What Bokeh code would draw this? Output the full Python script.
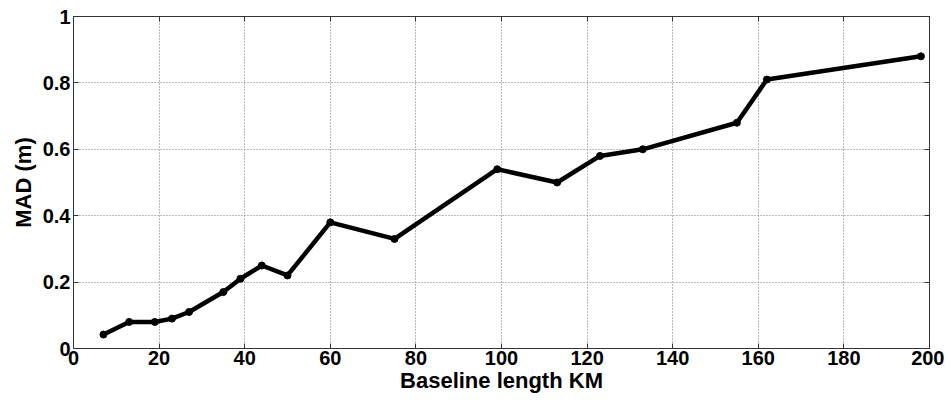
from bokeh.plotting import figure
from bokeh.models import FixedTicker, LinearAxis, Range1d
from bokeh.embed import file_html
from bokeh.resources import INLINE

baseline_km = [7, 13, 19, 23, 27, 35, 39, 44, 50, 60, 75, 99, 113, 123, 133, 155, 162, 198]
mad_m = [0.042, 0.08, 0.08, 0.09, 0.11, 0.17, 0.21, 0.25, 0.22, 0.38, 0.33, 0.54, 0.50, 0.58, 0.60, 0.68, 0.81, 0.88]

x_ticks = [0, 20, 40, 60, 80, 100, 120, 140, 160, 180, 200]
y_ticks = [0, 0.2, 0.4, 0.6, 0.8, 1]
y_tick_labels = ["0", "0.2", "0.4", "0.6", "0.8", "1"]

FONT = "Liberation Sans"

p = figure(width=944, height=395, output_backend="svg", toolbar_location=None,
           x_range=Range1d(0, 200), y_range=Range1d(0, 1),
           min_border_left=73, min_border_right=15, min_border_top=16, min_border_bottom=46)
p.outline_line_color = "#333333"
p.outline_line_width = 1
p.background_fill_color = "white"
p.border_fill_color = "white"

for ax in (p.xaxis[0], p.yaxis[0]):
    ax.major_tick_in = 5
    ax.major_tick_out = 0
    ax.minor_tick_line_color = None
    ax.axis_line_color = "#333333"
    ax.major_tick_line_color = "#333333"
    ax.major_label_text_font = FONT
    ax.major_label_text_font_style = "bold"
    ax.major_label_text_font_size = "20px"
    ax.major_label_text_color = "black"
    ax.axis_label_text_font = FONT
    ax.axis_label_text_font_style = "bold"
    ax.axis_label_text_font_size = "22px"
    ax.axis_label_text_color = "black"

p.xaxis.ticker = FixedTicker(ticks=x_ticks)
p.yaxis.ticker = FixedTicker(ticks=y_ticks)
p.yaxis.major_label_overrides = {t: l for t, l in zip(y_ticks, y_tick_labels)}
p.xaxis.axis_label = "Baseline length KM"
p.yaxis.axis_label = "MAD (m)"
p.xaxis.axis_label_standoff = 0
p.xaxis.major_label_standoff = 2
p.yaxis.major_label_standoff = 3
p.yaxis.axis_label_standoff = 4

# box ticks on top and right (no labels)
top = LinearAxis(ticker=FixedTicker(ticks=x_ticks),
                 major_label_overrides={t: "" for t in x_ticks},
                 major_label_standoff=0,
                 major_tick_in=5, major_tick_out=0, minor_tick_line_color=None,
                 axis_line_color="#333333", major_tick_line_color="#333333")
right = LinearAxis(ticker=FixedTicker(ticks=y_ticks),
                   major_label_overrides={t: "" for t in y_ticks},
                   major_label_standoff=0,
                   major_tick_in=5, major_tick_out=0, minor_tick_line_color=None,
                   axis_line_color="#333333", major_tick_line_color="#333333")
p.add_layout(top, "above")
p.add_layout(right, "right")

p.xgrid.ticker = FixedTicker(ticks=x_ticks)
p.ygrid.ticker = FixedTicker(ticks=y_ticks)
for g in (p.xgrid[0], p.ygrid[0]):
    g.grid_line_color = "#777777"
    g.grid_line_dash = "1 2"
    g.grid_line_width = 1

p.line(baseline_km, mad_m, line_color="black", line_width=4.5)
p.scatter(baseline_km, mad_m, size=7, color="black")

open("out.html", "w").write(file_html(p, INLINE))
